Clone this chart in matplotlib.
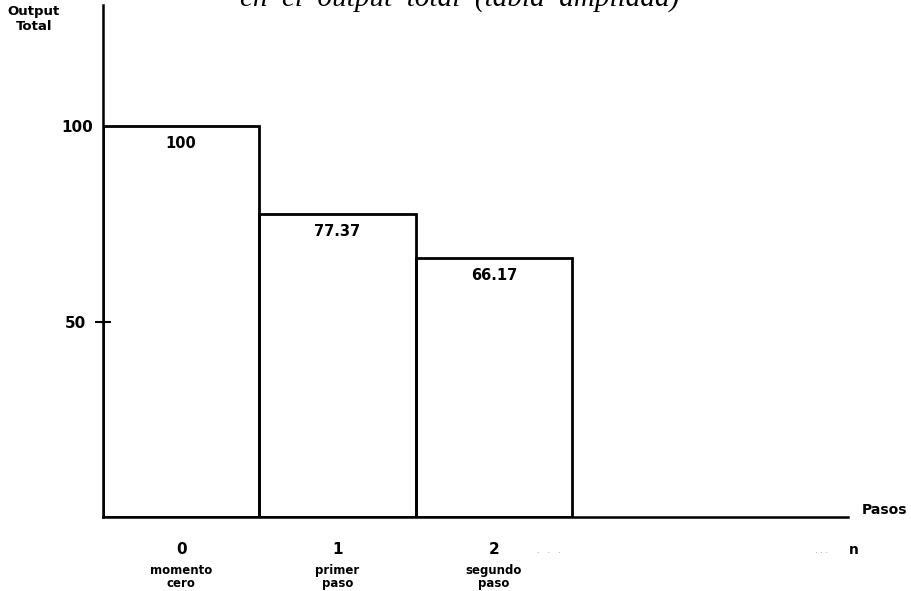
import matplotlib
matplotlib.use("Agg")
import matplotlib.pyplot as plt

steps = [0, 1, 2]
values = [100, 77.37, 66.17]
value_labels = ["100", "77.37", "66.17"]
step_labels = ["0", "1", "2"]
step_names = ["momento\ncero", "primer\npaso", "segundo\npaso"]
title = "en  el  output  total  (tabla  ampliada)"
ylabel = "Output\nTotal"
xlabel = "Pasos"

W, H = 912, 591
fig = plt.figure(figsize=(W / 100, H / 100), dpi=100)
left, right, bottom, top = 103, 848, 517, 5
ax = fig.add_axes([left / W, (H - bottom) / H, (right - left) / W, (bottom - top) / H])

bars = ax.bar(steps, values, width=1.0, align="edge", fill=False,
              edgecolor="black", linewidth=2.0, zorder=3)
ax.set_xlim(0, (right - left) / 156.3)
ax.set_ylim(0, (bottom - top) / 3.91)

for s, v, lab in zip(steps, values, value_labels):
    ax.annotate(lab, (s + 0.5, v), xytext=(0, -12.5), textcoords="offset points",
                ha="center", va="center", fontsize=10.5, fontweight="bold")

ax.spines["top"].set_visible(False)
ax.spines["right"].set_visible(False)
ax.spines["left"].set_linewidth(1.8)
ax.spines["bottom"].set_linewidth(1.8)

ax.set_yticks([50, 100])
ax.set_yticklabels(["50", "100"], fontsize=11, fontweight="bold")
ax.tick_params(axis="y", direction="inout", length=12, width=1.5, pad=1)
yt = ax.yaxis.get_major_ticks()
yt[1].tick1line.set_visible(False)
yt[0].set_pad(6)

ax.set_xticks([s + 0.5 for s in steps])
ax.set_xticklabels(step_labels, fontsize=11, fontweight="bold")
ax.tick_params(axis="x", length=0, pad=18)

for s, name in zip(steps, step_names):
    ax.annotate(name, (s + 0.5, 0), xytext=(0, -34), textcoords="offset points",
                ha="center", va="top", fontsize=8.5, fontweight="bold",
                linespacing=0.95)

ax.annotate(xlabel, (1, 0), xycoords="axes fraction", xytext=(10, 0),
            textcoords="offset points", ha="left", va="bottom",
            fontsize=10, fontweight="bold")
ax.annotate("n", (1, 0), xycoords="axes fraction", xytext=(4, -24),
            textcoords="offset points", ha="center", va="center",
            fontsize=10, fontweight="bold")
ax.annotate(".   .   .", (2.85, 0), xytext=(0, -24), textcoords="offset points",
            ha="center", va="center", fontsize=6, color="#888888")
ax.annotate(". . .", (4.6, 0), xytext=(0, -24), textcoords="offset points",
            ha="center", va="center", fontsize=6, color="#888888")

fig.text(34 / W, 1 - 19 / H, ylabel, ha="center", va="center", fontsize=9.5,
         fontweight="bold", linespacing=1.1)

fig.text(460 / W, 1 - 6 / H, title, ha="center", va="baseline",
         fontsize=21, style="italic", family="Liberation Serif")

fig.savefig("out.png", dpi=100)
